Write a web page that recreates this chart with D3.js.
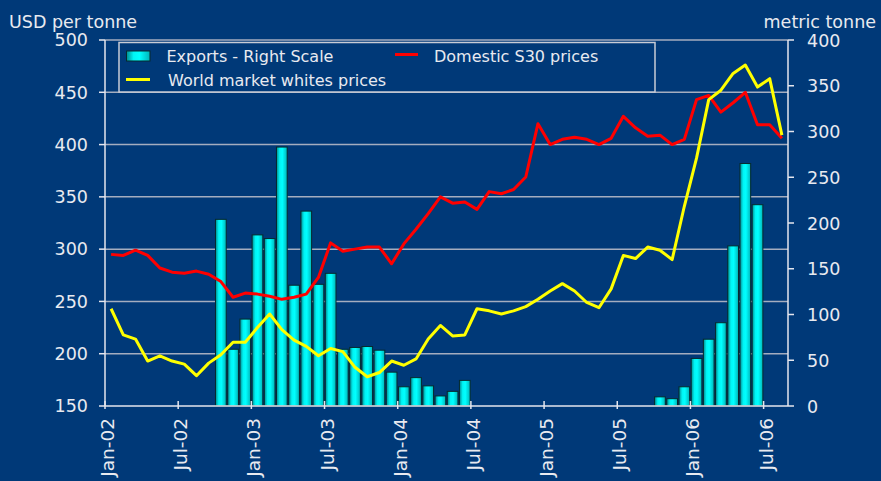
<!DOCTYPE html>
<html>
<head>
<meta charset="utf-8">
<script src="https://cdn.jsdelivr.net/npm/d3@7"></script>
<style>
  html, body { margin: 0; padding: 0; background: #003978; }
  svg { display: block; }
  text { font-family: "DejaVu Sans", Verdana, sans-serif; fill: #e8eaf0; }
</style>
</head>
<body>
<svg id="chart" width="881" height="481"></svg>
<script>
// Monthly categories, Jan 2002 – Aug 2006
const months = [
  "2002-01","2002-02","2002-03","2002-04","2002-05","2002-06","2002-07","2002-08","2002-09","2002-10","2002-11","2002-12",
  "2003-01","2003-02","2003-03","2003-04","2003-05","2003-06","2003-07","2003-08","2003-09","2003-10","2003-11","2003-12",
  "2004-01","2004-02","2004-03","2004-04","2004-05","2004-06","2004-07","2004-08","2004-09","2004-10","2004-11","2004-12",
  "2005-01","2005-02","2005-03","2005-04","2005-05","2005-06","2005-07","2005-08","2005-09","2005-10","2005-11","2005-12",
  "2006-01","2006-02","2006-03","2006-04","2006-05","2006-06","2006-07","2006-08"
];

// Exports, metric tonne (right scale); null = no exports that month
const exportsT = [
  null,null,null,null,null,null,null,null,null,204,62,95,
  187,183,283,132,213,133,145,62,64,65,61,37,
  21,31,22,11,16,28,null,null,null,null,null,null,
  null,null,null,null,null,null,null,null,null,10,8,21,
  52,73,91,175,265,220,null,null
];

// Domestic S30 prices, USD per tonne
const domesticS30 = [
  295,294,299,294,282,278,277,279,276,269,254,258,
  257,255,252,254,257,273,306,298,300,302,302,286,
  305,319,334,350,344,345,338,355,353,357,369,420,
  400,405,407,405,400,406,427,416,408,409,400,405,
  443,447,431,440,450,419,419,406
];

// World market whites prices, USD per tonne
const worldWhites = [
  243,218,214,193,198,193,190,179,191,199,211,211,
  225,238,223,213,207,198,205,202,187,178,182,193,
  189,195,214,227,217,218,243,241,238,241,245,252,
  260,267,260,249,244,262,294,291,302,299,290,341,
  387,443,452,468,476,455,463,409
];

// Axis tick values and labels
const leftTicks = [150,200,250,300,350,400,450,500];
const rightTicks = [0,50,100,150,200,250,300,350,400];
const xTickMonths = ["2002-01","2002-07","2003-01","2003-07","2004-01","2004-07","2005-01","2005-07","2006-01","2006-07"];
const xTickLabels = ["Jan-02","Jul-02","Jan-03","Jul-03","Jan-04","Jul-04","Jan-05","Jul-05","Jan-06","Jul-06"];

const svg = d3.select("#chart");
const plot = { left: 105, right: 788, top: 40, bottom: 406 };

const x = d3.scaleBand().domain(months).range([plot.left, plot.right])
  .paddingInner(0.12).paddingOuter(0.06);
const step = x.step();
const catStart = m => x(m) - step * x.paddingOuter();
const catMid = m => x(m) + x.bandwidth() / 2;

const yL = d3.scaleLinear().domain([150, 500]).range([plot.bottom, plot.top]);
const yR = d3.scaleLinear().domain([0, 400]).range([plot.bottom, plot.top]);

// Bar shading
const defs = svg.append("defs");
const grad = defs.append("linearGradient").attr("id", "barGrad")
  .attr("x1", "0%").attr("x2", "100%").attr("y1", "0%").attr("y2", "0%");
[["0%", "#00898f"], ["30%", "#00f4f4"], ["55%", "#00ffff"], ["100%", "#00b4b8"]]
  .forEach(([o, c]) => grad.append("stop").attr("offset", o).attr("stop-color", c));

// Horizontal gridlines
svg.append("g")
  .selectAll("line").data(leftTicks.filter(t => t > 150)).join("line")
  .attr("x1", plot.left).attr("x2", plot.right)
  .attr("y1", d => yL(d)).attr("y2", d => yL(d))
  .attr("stroke", "#a4adbf").attr("stroke-width", 1.5);

// Export bars
svg.append("g")
  .selectAll("rect").data(months.map((m, i) => ({ m, v: exportsT[i] })).filter(d => d.v != null))
  .join("rect")
  .attr("x", d => x(d.m)).attr("width", x.bandwidth())
  .attr("y", d => yR(d.v)).attr("height", d => yR(0) - yR(d.v))
  .attr("fill", "url(#barGrad)").attr("stroke", "#062a2e").attr("stroke-width", 1);

// Price lines
const line = d3.line().x((d, i) => catMid(months[i])).y(d => yL(d)).curve(d3.curveLinear);
svg.append("path").datum(domesticS30).attr("d", line)
  .attr("fill", "none").attr("stroke", "#ff0000").attr("stroke-width", 3).attr("stroke-linejoin", "round");
svg.append("path").datum(worldWhites).attr("d", line)
  .attr("fill", "none").attr("stroke", "#ffff00").attr("stroke-width", 3).attr("stroke-linejoin", "round");

// Left axis
const axisColor = "#e4e6ee";
const gL = svg.append("g");
gL.append("line").attr("x1", plot.left).attr("x2", plot.left).attr("y1", plot.top).attr("y2", plot.bottom)
  .attr("stroke", axisColor).attr("stroke-width", 1.5);
gL.selectAll("line.t").data(leftTicks).join("line").attr("class", "t")
  .attr("x1", plot.left - 6).attr("x2", plot.left).attr("y1", d => yL(d)).attr("y2", d => yL(d))
  .attr("stroke", axisColor).attr("stroke-width", 1.5);
gL.selectAll("text").data(leftTicks).join("text")
  .attr("x", 88).attr("y", d => yL(d)).attr("dy", "0.36em")
  .attr("text-anchor", "end").attr("font-size", 17.5).text(d => d);

// Right axis
const gR = svg.append("g");
gR.append("line").attr("x1", plot.right).attr("x2", plot.right).attr("y1", plot.top).attr("y2", plot.bottom)
  .attr("stroke", axisColor).attr("stroke-width", 1.5);
gR.selectAll("line.t").data(rightTicks).join("line").attr("class", "t")
  .attr("x1", plot.right).attr("x2", plot.right + 6).attr("y1", d => yR(d)).attr("y2", d => yR(d))
  .attr("stroke", axisColor).attr("stroke-width", 1.5);
gR.selectAll("text").data(rightTicks).join("text")
  .attr("x", 807).attr("y", d => yR(d)).attr("dy", "0.38em")
  .attr("text-anchor", "start").attr("font-size", 17.5).text(d => d);

// Bottom axis
const gB = svg.append("g");
gB.append("line").attr("x1", plot.left).attr("x2", plot.right).attr("y1", plot.bottom).attr("y2", plot.bottom)
  .attr("stroke", axisColor).attr("stroke-width", 1.5);
gB.selectAll("line.t").data(xTickMonths).join("line").attr("class", "t")
  .attr("x1", d => catStart(d)).attr("x2", d => catStart(d))
  .attr("y1", plot.bottom - 5).attr("y2", plot.bottom + 3)
  .attr("stroke", axisColor).attr("stroke-width", 1.5);
gB.selectAll("text").data(xTickMonths).join("text")
  .attr("transform", (d, i) => `translate(${catStart(d) + 9},418) rotate(-90)`)
  .attr("text-anchor", "end").attr("font-size", 18.5)
  .text((d, i) => xTickLabels[i]);

// Axis titles
svg.append("text").attr("x", 9).attr("y", 27.5).attr("font-size", 17.5).text("USD per tonne");
svg.append("text").attr("x", 876).attr("y", 27.5).attr("text-anchor", "end").attr("font-size", 17.5).text("metric tonne");

// Legend
const lg = svg.append("g");
lg.append("rect").attr("x", 119).attr("y", 42.5).attr("width", 536).attr("height", 49.5)
  .attr("fill", "#003978").attr("stroke", "#c8ccd6").attr("stroke-width", 1.5);
lg.append("rect").attr("x", 126.5).attr("y", 51).attr("width", 23.5).attr("height", 10)
  .attr("fill", "url(#barGrad)").attr("stroke", "#062a2e").attr("stroke-width", 1);
lg.append("text").attr("x", 166.5).attr("y", 62).attr("font-size", 16).text("Exports - Right Scale");
lg.append("line").attr("x1", 395).attr("x2", 418).attr("y1", 54.5).attr("y2", 54.5)
  .attr("stroke", "#ff0000").attr("stroke-width", 3);
lg.append("text").attr("x", 434).attr("y", 62).attr("font-size", 16).text("Domestic S30 prices");
lg.append("line").attr("x1", 126).attr("x2", 150).attr("y1", 79.5).attr("y2", 79.5)
  .attr("stroke", "#ffff00").attr("stroke-width", 3);
lg.append("text").attr("x", 168).attr("y", 86).attr("font-size", 16).text("World market whites prices");
</script>
</body>
</html>
